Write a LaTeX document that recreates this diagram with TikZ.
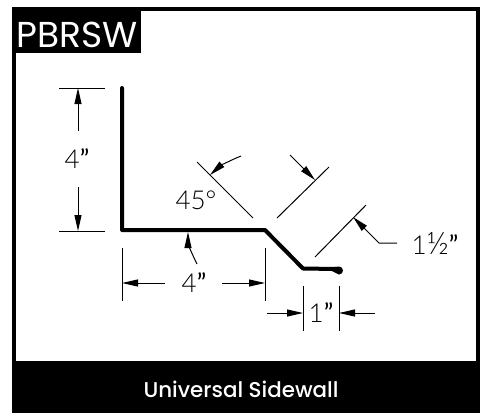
\documentclass[tikz,border=0pt]{standalone}
\usepackage{fontspec}
\setmainfont{Poppins}
\newfontfamily\dimfont{Lato Light}
\newfontfamily\quotefont{Lato}
\newfontfamily\popmed{Poppins Medium}
\newcommand{\qmark}{{\quotefont”}}
\usetikzlibrary{arrows.meta}
\tikzset{
  x=1pt,y=-1pt,
  thinline/.style={draw=black,line width=1pt},
  dimline/.style={thinline,-{Triangle[length=16pt,width=7pt]}},
  profile/.style={draw=black,line width=4pt,line join=round,line cap=round},
  dimtext/.style={font=\dimfont\fontsize{26}{26}\selectfont,inner sep=0pt,text=black},
}
\begin{document}
\begin{tikzpicture}
\useasboundingbox (0,0) rectangle (484,413);
\fill[white] (0,0) rectangle (484,413);
\draw[black,line width=4pt] (14,9) rectangle (478,375);
\fill[black] (12,361) rectangle (480,413);
\node[font=\popmed\fontsize{21.4}{22}\selectfont,text=white,inner sep=0pt] (caption) at (241,389) {Universal Sidewall};
\fill[black] (12,7) rectangle (141,53);
\node[font=\fontsize{36}{36}\selectfont,text=white,inner sep=0pt] (title) at (77,35) {PBRSW};
% profile
\draw[profile] (122,88) -- (122,230) -- (265,230) -- (303,268.5) -- (336,269);
\fill[black] (326,268) -- (339,266.5) arc[start angle=-90,end angle=90,radius=4] -- cycle;
% vertical 4
\coordinate (ta) at (59,88); \coordinate (tb) at (105,88);
\coordinate (ba) at (59,231); \coordinate (bb) at (105,231);
\coordinate (tt) at (78,88); \coordinate (tf) at (78,131);
\coordinate (bt) at (78,231); \coordinate (bf) at (78,187);
\draw[thinline] (ta) -- (tb); \draw[thinline] (ba) -- (bb);
\draw[dimline] (tf) -- (tt); \draw[dimline] (bf) -- (bt);
\node[dimtext] (v4) at (77,159) {4\qmark};
% horizontal 4
\coordinate (la) at (122,248); \coordinate (lb) at (122,301);
\coordinate (ra) at (265,248); \coordinate (rb) at (265,301);
\draw[thinline] (la) -- (lb); \draw[thinline] (ra) -- (rb);
\coordinate (lf) at (165,283); \coordinate (lt) at (122,283);
\coordinate (rf) at (222,283); \coordinate (rt) at (265,283);
\draw[dimline] (lf) -- (lt); \draw[dimline] (rf) -- (rt);
\node[dimtext] (h4) at (194,283) {4\qmark};
\coordinate (cf) at (197,264); \coordinate (ct) at (188,232);
\draw[dimline] (cf) .. controls (191,252) and (188,243) .. (ct);
% 45
\coordinate (aa) at (197,162); \coordinate (ab) at (253,218);
\coordinate (ca) at (277,218); \coordinate (cb) at (329,167);
\draw[thinline] (aa) -- (ab); \draw[thinline] (ca) -- (cb);
\coordinate (af) at (241,156); \coordinate (at) at (210,175);
\draw[dimline] (af) .. controls (231,160) and (220,166) .. (at);
\coordinate (df) at (290,155); \coordinate (dt) at (315,180);
\draw[dimline] (df) -- (dt);
\node[dimtext] (deg) at (196,200) {45°};
% 1 1/2
\coordinate (ea) at (315,257); \coordinate (eb) at (366,205);
\draw[thinline] (ea) -- (eb);
\coordinate (ef) at (397,243); \coordinate (ek) at (379,243); \coordinate (et) at (353,217);
\draw[dimline] (ef) -- (ek) -- (et);
\node[dimtext] (half) at (435,243) {1{\fontsize{31}{31}\selectfont ½}\qmark};
% 1
\coordinate (oa) at (303,286); \coordinate (ob) at (303,331);
\coordinate (pa) at (339,286); \coordinate (pb) at (339,331);
\draw[thinline] (oa) -- (ob); \draw[thinline] (pa) -- (pb);
\coordinate (of) at (267,313); \coordinate (ot) at (303,313);
\coordinate (pf) at (375,313); \coordinate (pt) at (339,313);
\draw[dimline] (of) -- (ot); \draw[dimline] (pf) -- (pt);
\node[dimtext] (one) at (321,313) {1\qmark};
\end{tikzpicture}
\end{document}
